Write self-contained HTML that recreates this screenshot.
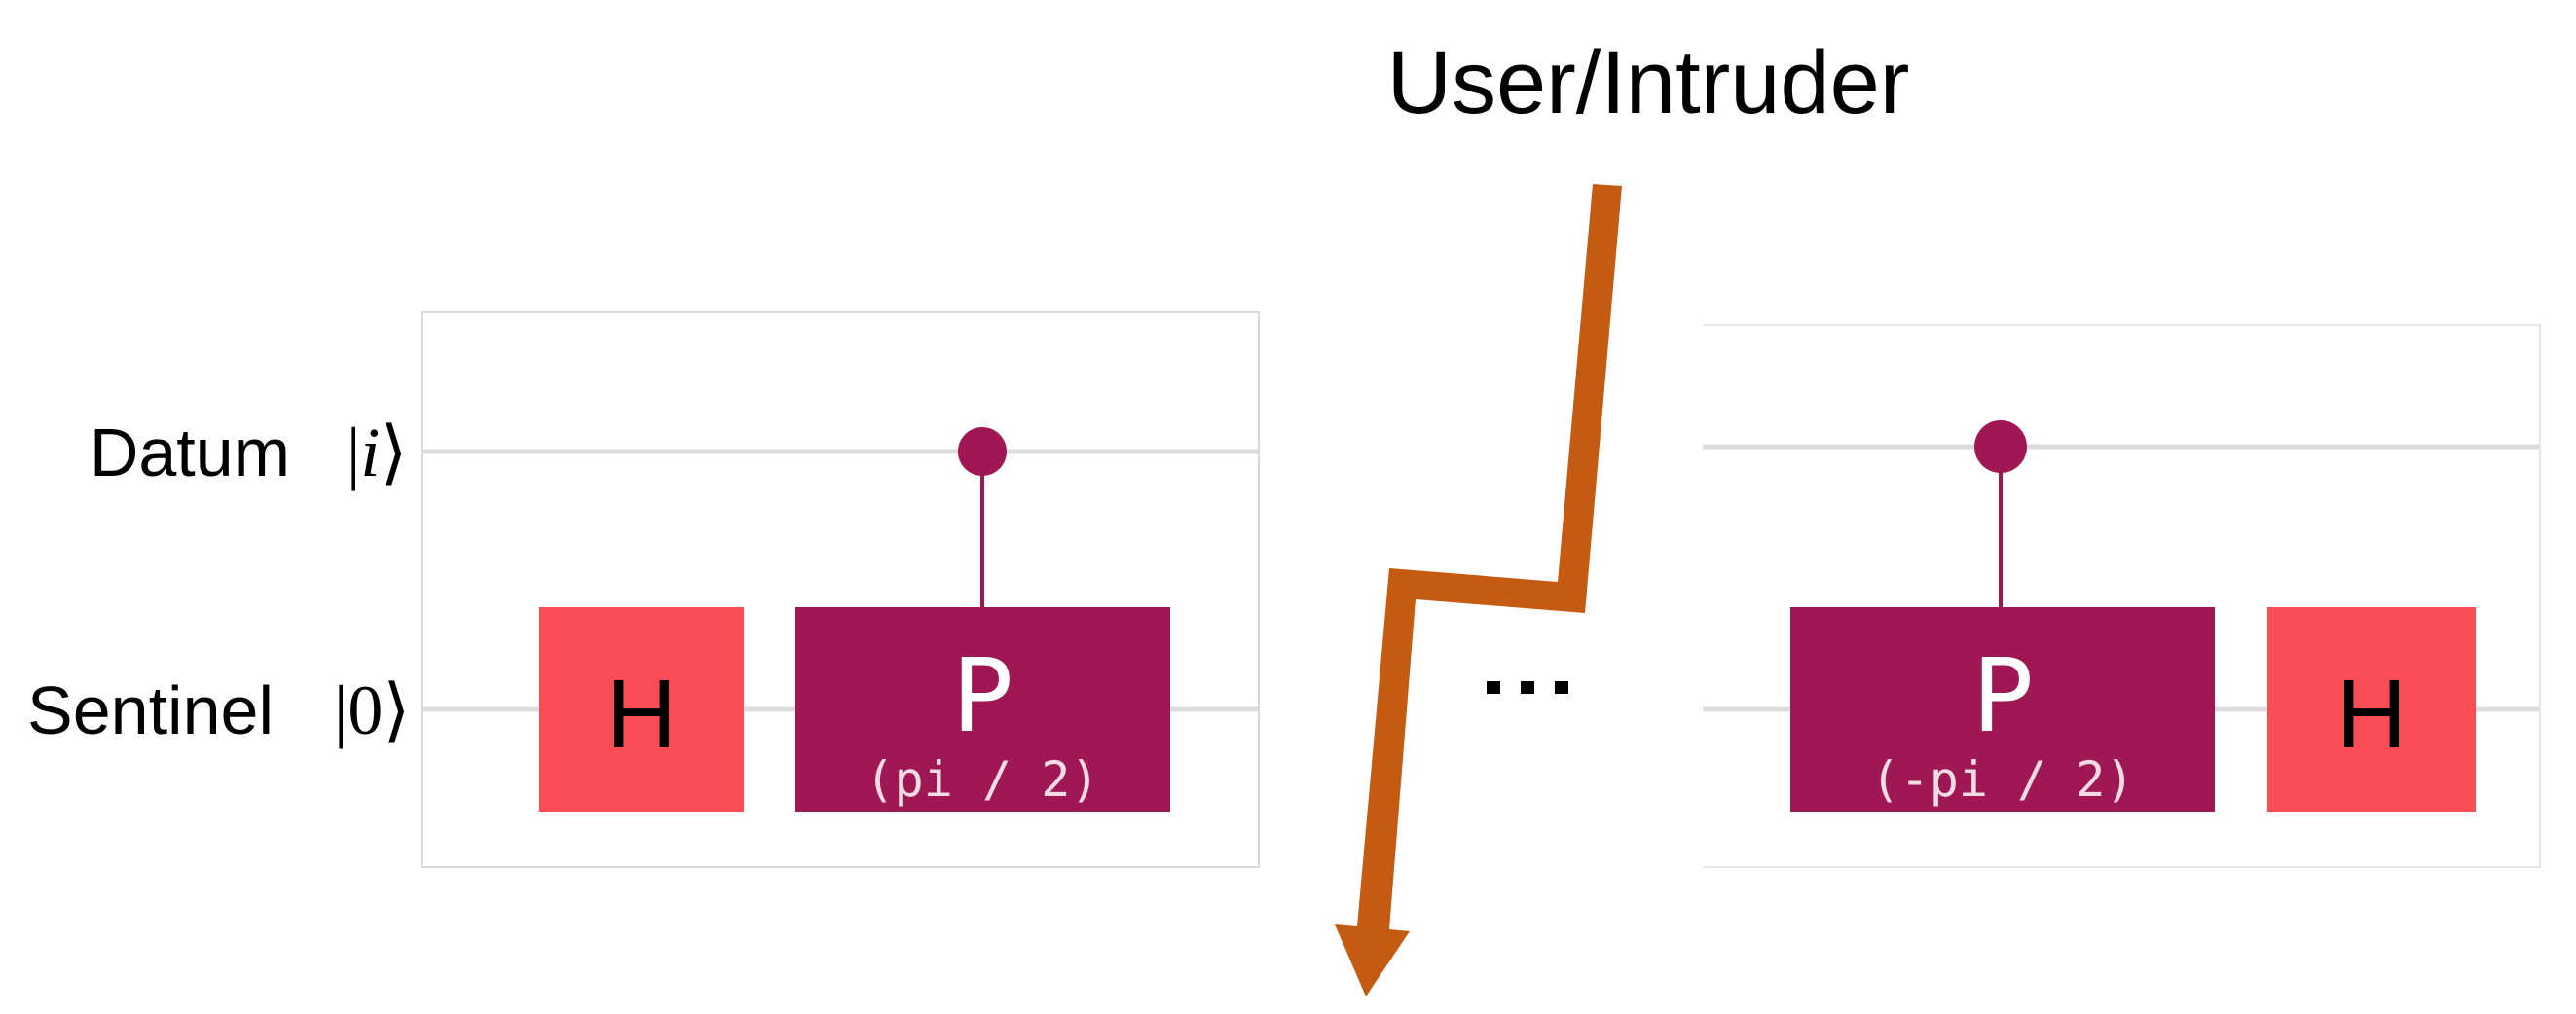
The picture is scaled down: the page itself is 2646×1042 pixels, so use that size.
<!DOCTYPE html>
<html><head><meta charset="utf-8"><style>
html,body{margin:0;padding:0;background:#fff;}
svg{display:block;}
</style></head><body>
<svg width="2646" height="1042" viewBox="0 0 2646 1042" xmlns="http://www.w3.org/2000/svg">
<rect width="2646" height="1042" fill="#fff"/>
<!-- left panel -->
<rect x="433" y="321" width="860" height="570" fill="#fff" stroke="#d9d9d9" stroke-width="2"/>
<line x1="434" y1="464" x2="1292" y2="464" stroke="#dcdcdc" stroke-width="5"/>
<line x1="434" y1="729" x2="1292" y2="729" stroke="#dcdcdc" stroke-width="5"/>
<line x1="1009" y1="464" x2="1009" y2="626" stroke="#9f1853" stroke-width="4"/>
<circle cx="1009" cy="464" r="25" fill="#9f1853"/>
<rect x="554" y="624" width="210" height="210" fill="#fa4d56"/>
<text x="659" y="768" font-family="Liberation Sans, sans-serif" font-size="100" text-anchor="middle" fill="#000">H</text>
<rect x="817" y="624" width="385" height="210" fill="#9f1853"/>
<text x="1009" y="751" font-family="DejaVu Sans, sans-serif" font-size="104" text-anchor="middle" fill="#fff">P</text>
<text x="1009" y="818" font-family="DejaVu Sans Mono, Liberation Mono, monospace" font-size="50" text-anchor="middle" fill="#f3dbe5">(pi / 2)</text>
<text x="298" y="489" font-family="Liberation Sans, sans-serif" font-size="70" text-anchor="end" fill="#000">Datum</text>
<text x="356" y="489" font-family="Liberation Serif, serif" font-size="72" fill="#000">|<tspan font-style="italic">i</tspan>⟩</text>
<text x="281" y="754" font-family="Liberation Sans, sans-serif" font-size="70" text-anchor="end" fill="#000">Sentinel</text>
<text x="343" y="754" font-family="Liberation Serif, serif" font-size="72" fill="#000">|0⟩</text>
<!-- right panel -->
<rect x="1748" y="334" width="861" height="557" fill="#fff" stroke="#e6e6e6" stroke-width="2"/>
<rect x="1745" y="330" width="4" height="564" fill="#fff"/>
<line x1="1749" y1="459" x2="2608" y2="459" stroke="#dcdcdc" stroke-width="5"/>
<line x1="1749" y1="729" x2="2608" y2="729" stroke="#dcdcdc" stroke-width="5"/>
<line x1="2055" y1="459" x2="2055" y2="626" stroke="#9f1853" stroke-width="4"/>
<circle cx="2055" cy="459" r="27" fill="#9f1853"/>
<rect x="1839" y="624" width="436" height="210" fill="#9f1853"/>
<text x="2057" y="751" font-family="DejaVu Sans, sans-serif" font-size="104" text-anchor="middle" fill="#fff">P</text>
<text x="2057" y="818" font-family="DejaVu Sans Mono, Liberation Mono, monospace" font-size="50" text-anchor="middle" fill="#f3dbe5">(-pi / 2)</text>
<rect x="2329" y="624" width="214" height="210" fill="#fa4d56"/>
<text x="2436" y="768" font-family="Liberation Sans, sans-serif" font-size="100" text-anchor="middle" fill="#000">H</text>
<!-- title -->
<text x="1693" y="116" font-family="Liberation Sans, sans-serif" font-size="92" text-anchor="middle" fill="#000">User/Intruder</text>
<!-- dots -->
<rect x="1527" y="700" width="14" height="13" fill="#000"/>
<rect x="1562" y="700" width="14" height="13" fill="#000"/>
<rect x="1597" y="700" width="14" height="13" fill="#000"/>
<!-- bolt -->
<polygon points="1636,189 1666,191 1628,630 1454,616 1427,955 1448,957 1403,1024 1371,950 1394,952 1427,584 1600,598" fill="#c55a11"/>
</svg>
</body></html>
